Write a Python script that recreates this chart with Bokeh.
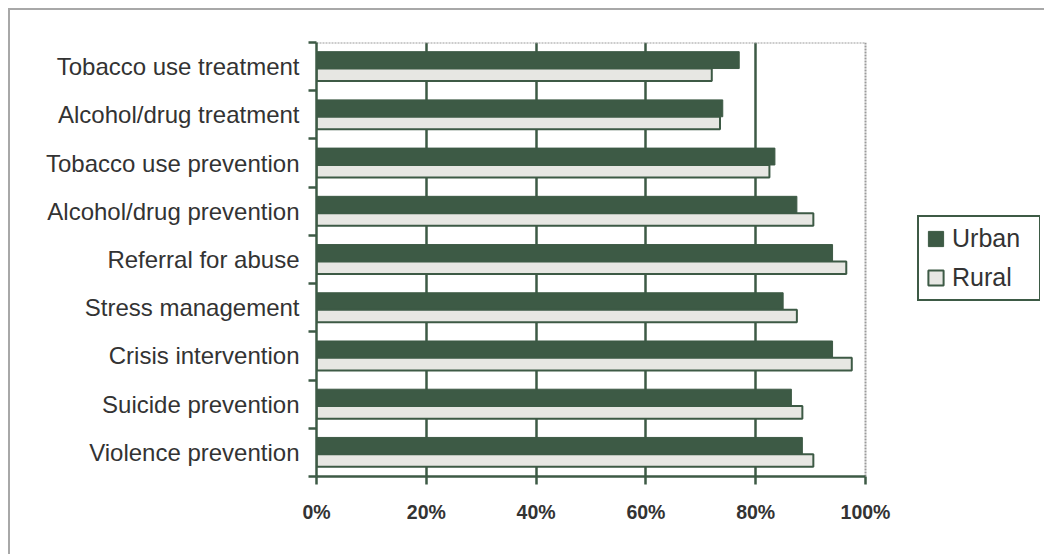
from bokeh.plotting import figure
from bokeh.models import (ColumnDataSource, FixedTicker, PrintfTickFormatter,
                          Legend, LegendItem)
from bokeh.transform import dodge
from bokeh.embed import file_html
from bokeh.resources import INLINE

# ---- data (top to bottom as in the chart) ----
categories = ["Tobacco use treatment", "Alcohol/drug treatment", "Tobacco use prevention",
              "Alcohol/drug prevention", "Referral for abuse", "Stress management",
              "Crisis intervention", "Suicide prevention", "Violence prevention"]
urban = [77, 74, 83.5, 87.5, 94, 85, 94, 86.5, 88.5]
rural = [72, 73.5, 82.5, 90.5, 96.5, 87.5, 97.5, 88.5, 90.5]
x_ticks = [0, 20, 40, 60, 80, 100]

DARK = "#3d5a45"
LIGHT = "#e7e7e3"
TEXT = "#333333"
FONT = "Liberation Sans"

n = len(categories)
centers = [n - 0.5 - i for i in range(n)]
source = ColumnDataSource(dict(y=centers, urban=urban, rural=rural, cat=categories))

# layout (window pixels): plot area 316..865 for 0..100 %, frame extended to hold legend
OFF = 10                      # 8px margin + 2px border of the outer frame
AX_L, AX_R, FR_R = 316, 865, 1040
x_end = x_ticks[-1] * (FR_R - AX_L) / (AX_R - AX_L)

p = figure(width=1046 - OFF, height=556 - OFF, output_backend="svg", toolbar_location=None,
           x_range=(0, x_end), y_range=(0, n),
           min_border_left=AX_L - OFF, min_border_right=1046 - FR_R, min_border_top=42 - OFF,
           min_border_bottom=80)
p.margin = (8, 0, 0, 8)
p.styles = {"border-top": "2px solid #a8a8a8", "border-left": "2px solid #a8a8a8"}
p.background_fill_color = "white"
p.border_fill_color = "white"
p.outline_line_color = None

# grid
p.ygrid.grid_line_color = None
p.xgrid.ticker = FixedTicker(ticks=x_ticks[1:-1])
p.xgrid.grid_line_color = DARK
p.xgrid.grid_line_width = 2.5
p.xgrid.bounds = (0, n)

# dotted plot-area border (top and right)
p.segment(x0=[0, x_ticks[-1]], y0=[n, 0], x1=[x_ticks[-1], x_ticks[-1]], y1=[n, n],
          line_color="#9a9a9a", line_width=2, line_dash="2 1")

r_urban = p.hbar(y=dodge("y", 0.135, range=p.y_range), left=0, right="urban", height=0.35,
                 source=source, fill_color=DARK, line_color=DARK, line_width=1)
r_rural = p.hbar(y=dodge("y", -0.17, range=p.y_range), left=0, right="rural", height=0.26,
                 source=source, fill_color=LIGHT, line_color=DARK, line_width=2)

# x axis
xa = p.xaxis[0]
xa.bounds = (x_ticks[0], x_ticks[-1])
xa.ticker = FixedTicker(ticks=x_ticks)
xa.formatter = PrintfTickFormatter(format="%d%%")
xa.axis_line_color = DARK
xa.axis_line_width = 2.5
xa.major_tick_line_color = DARK
xa.major_tick_line_width = 2.5
xa.major_tick_in = 0
xa.major_tick_out = 8
xa.minor_tick_line_color = None
xa.major_label_text_font = FONT
xa.major_label_text_font_style = "bold"
xa.major_label_text_font_size = "19.5px"
xa.major_label_text_color = TEXT
xa.major_label_standoff = 16

# y axis
ya = p.yaxis[0]
ya.ticker = FixedTicker(ticks=centers, minor_ticks=list(range(n + 1)))
ya.major_label_overrides = {c: lab for c, lab in zip(centers, categories)}
ya.axis_line_color = DARK
ya.axis_line_width = 2.5
ya.major_tick_line_color = None
ya.major_tick_in = 0
ya.major_tick_out = 0
ya.minor_tick_line_color = DARK
ya.minor_tick_line_width = 2.5
ya.minor_tick_in = 0
ya.minor_tick_out = 8
ya.major_label_text_font = FONT
ya.major_label_text_font_size = "24px"
ya.major_label_text_color = TEXT
ya.major_label_standoff = 9

legend = Legend(items=[LegendItem(label="Urban", renderers=[r_urban]),
                       LegendItem(label="Rural", renderers=[r_rural])],
                location=(917 - AX_L, 476 - 301))
legend.border_line_color = DARK
legend.border_line_alpha = 1.0
legend.border_line_width = 2.5
legend.background_fill_color = "white"
legend.background_fill_alpha = 1
legend.label_text_font = FONT
legend.label_text_font_size = "25px"
legend.label_text_color = TEXT
legend.glyph_width = 19
legend.glyph_height = 19
legend.label_height = 19
legend.label_width = 80
legend.spacing = 10
legend.padding = 7
legend.margin = 0
legend.label_standoff = 7
p.add_layout(legend)

open("out.html", "w").write(file_html(p, INLINE))
